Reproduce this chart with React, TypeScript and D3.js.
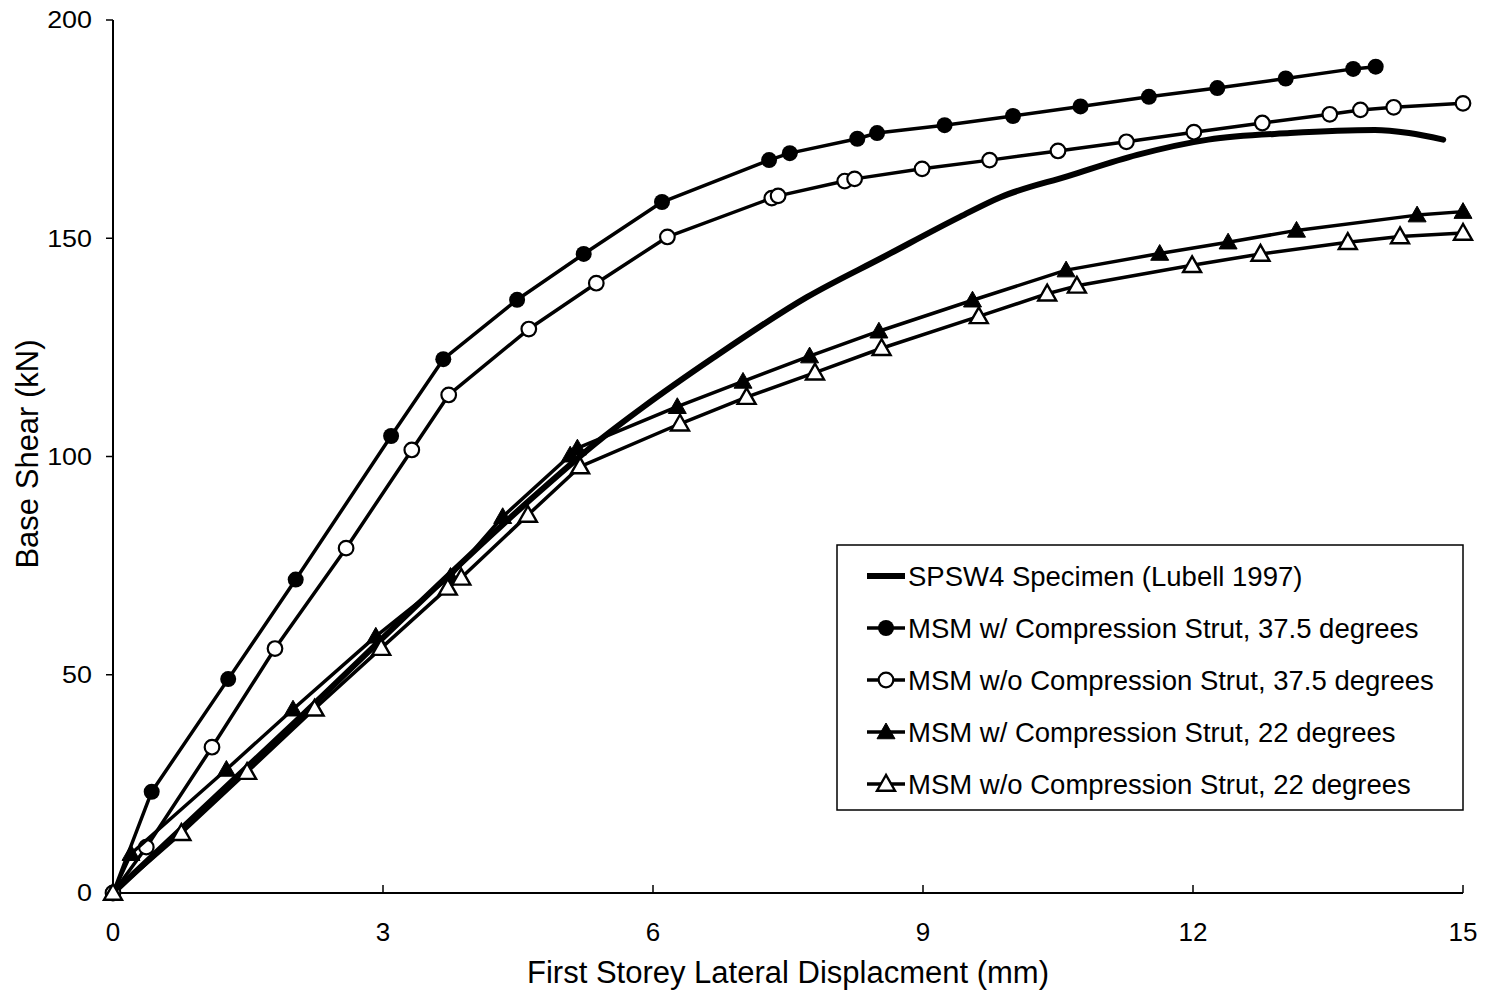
import React from "react";
import * as d3 from "d3";

type P = [number, number];

const spsw4: P[] = [
  [0, 0], [2.08, 40.3], [4.67, 90.7], [5.41, 103.8], [5.89, 111.3], [6.67, 122.6],
  [7.71, 136.5], [8.56, 145.7], [9.41, 154.9], [9.86, 159.4], [10.62, 164.3],
  [11.38, 169.1], [12.17, 172.6], [13.08, 174.1], [14.02, 174.8], [14.4, 174.1], [14.78, 172.6],
];

const msmWith375: P[] = [
  [0, 0], [0.43, 23.2], [1.28, 49], [2.03, 71.8], [3.09, 104.7], [3.67, 122.3],
  [4.49, 135.9], [5.23, 146.4], [6.1, 158.3], [7.29, 167.9], [7.52, 169.5],
  [8.27, 172.8], [8.49, 174.1], [9.24, 175.9], [10.0, 178.0], [10.75, 180.2],
  [11.51, 182.4], [12.27, 184.4], [13.03, 186.6], [13.78, 188.8], [14.03, 189.3],
];

const msmWithout375: P[] = [
  [0, 0], [0.37, 10.5], [1.1, 33.4], [1.8, 56], [2.59, 79], [3.32, 101.5], [3.73, 114.1],
  [4.62, 129.2], [5.37, 139.7], [6.16, 150.3], [7.32, 159.2], [7.39, 159.7],
  [8.13, 163.1], [8.24, 163.6], [8.99, 165.9], [9.74, 167.9], [10.5, 170.0],
  [11.26, 172.1], [12.01, 174.3], [12.77, 176.4], [13.52, 178.4], [13.86, 179.4],
  [14.23, 180.0], [15.0, 180.9],
];

const msmWith22: P[] = [
  [0, 0], [0.2, 9.0], [1.26, 28.3], [2.0, 42.1], [2.92, 58.8], [3.75, 72.5], [4.33, 86.2],
  [5.08, 100.3], [5.16, 101.9], [6.27, 111.4], [7.0, 117.2], [7.74, 123.0], [8.51, 128.7],
  [9.55, 135.8], [10.59, 142.7], [11.63, 146.5], [12.39, 149.1], [13.15, 151.8],
  [14.49, 155.3], [15.0, 156.1],
];

const msmWithout22: P[] = [
  [0, 0], [0.76, 13.7], [1.49, 27.7], [2.24, 42.2], [2.98, 56.1], [3.72, 69.9], [3.87, 72.2],
  [4.61, 86.6], [5.19, 97.7], [6.3, 107.5], [7.04, 113.6], [7.8, 119.2], [8.54, 124.8],
  [9.62, 132.1], [10.38, 137.3], [10.71, 139.1], [11.99, 143.8], [12.75, 146.4],
  [13.72, 149.1], [14.3, 150.4], [15.0, 151.2],
];

const xTicks = [0, 3, 6, 9, 12, 15];
const yTicks = [0, 50, 100, 150, 200];

const legendLabels = [
  "SPSW4 Specimen (Lubell 1997)",
  "MSM w/ Compression Strut, 37.5 degrees",
  "MSM w/o Compression Strut, 37.5 degrees",
  "MSM w/ Compression Strut, 22 degrees",
  "MSM w/o Compression Strut, 22 degrees",
];

const xLabel = "First Storey Lateral Displacment (mm)";
const yLabel = "Base Shear (kN)";

type Marker = "none" | "circleFilled" | "circleOpen" | "triFilled" | "triOpen";

const series: { data: P[]; marker: Marker; width: number }[] = [
  { data: spsw4, marker: "none", width: 6 },
  { data: msmWith375, marker: "circleFilled", width: 3.5 },
  { data: msmWithout375, marker: "circleOpen", width: 3.5 },
  { data: msmWith22, marker: "triFilled", width: 3.5 },
  { data: msmWithout22, marker: "triOpen", width: 3.5 },
];

const W = 1488;
const H = 994;
const left = 113;
const right = 1463;
const top = 20;
const bottom = 893;
const FONT = "'Liberation Sans', Arial, sans-serif";

function MarkerShape({ type, x, y }: { type: Marker; x: number; y: number }) {
  if (type === "circleFilled") return <circle cx={x} cy={y} r={8} fill="#000" />;
  if (type === "circleOpen")
    return <circle cx={x} cy={y} r={7.3} fill="#fff" stroke="#000" strokeWidth={2.2} />;
  if (type === "triFilled" || type === "triOpen") {
    const s = 9;
    const pts = `${x},${y - s} ${x - s},${y + s * 0.75} ${x + s},${y + s * 0.75}`;
    return (
      <polygon
        points={pts}
        fill={type === "triFilled" ? "#000" : "#fff"}
        stroke="#000"
        strokeWidth={type === "triFilled" ? 1 : 2.4}
      />
    );
  }
  return null;
}

export default function App() {
  const x = d3.scaleLinear().domain([0, 15]).range([left, right]);
  const y = d3.scaleLinear().domain([0, 200]).range([bottom, top]);
  const line = d3
    .line<P>()
    .x((d) => x(d[0]))
    .y((d) => y(d[1]));
  const smooth = d3
    .line<P>()
    .x((d) => x(d[0]))
    .y((d) => y(d[1]))
    .curve(d3.curveMonotoneX);

  const legX = 837;
  const legY = 545;
  const legW = 626;
  const legH = 265;
  const rowGap = 52;

  return (
    <svg width={W} height={H} style={{ display: "block", position: "absolute", left: 0, top: 0 }}>
      <rect x={0} y={0} width={W} height={H} fill="#fff" />
      {/* axes */}
      <line x1={left} y1={top} x2={left} y2={bottom} stroke="#000" strokeWidth={2} />
      <line x1={left} y1={bottom} x2={right} y2={bottom} stroke="#000" strokeWidth={2} />
      {yTicks.map((t) => (
        <g key={"y" + t}>
          <line x1={left - 7} x2={left} y1={y(t)} y2={y(t)} stroke="#000" strokeWidth={1.5} />
          <text
            transform={`translate(${left - 21}, ${y(t)}) scale(1.12, 1)`}
            textAnchor="end"
            dominantBaseline="central"
            fontFamily={FONT}
            fontSize={24}
          >
            {t}
          </text>
        </g>
      ))}
      {xTicks.map((t) => (
        <g key={"x" + t}>
          <line x1={x(t)} x2={x(t)} y1={bottom} y2={bottom - 8} stroke="#000" strokeWidth={1.5} />
          <text
            x={x(t)}
            y={932}
            textAnchor="middle"
            dominantBaseline="central"
            fontFamily={FONT}
            fontSize={26}
          >
            {t}
          </text>
        </g>
      ))}
      <text
        x={788}
        y={972}
        textAnchor="middle"
        dominantBaseline="central"
        fontFamily={FONT}
        fontSize={31}
      >
        {xLabel}
      </text>
      <text
        transform={`translate(27, 454) rotate(-90)`}
        textAnchor="middle"
        dominantBaseline="central"
        fontFamily={FONT}
        fontSize={31}
      >
        {yLabel}
      </text>

      {/* series */}
      {series.map((s, i) => (
        <g key={"s" + i}>
          <path
            d={(s.marker === "none" ? smooth : line)(s.data) || ""}
            fill="none"
            stroke="#000"
            strokeWidth={s.width}
            strokeLinejoin="round"
            strokeLinecap="round"
          />
          {s.marker !== "none" &&
            s.data.map((d, j) => <MarkerShape key={j} type={s.marker} x={x(d[0])} y={y(d[1])} />)}
        </g>
      ))}

      {/* legend */}
      <rect x={legX} y={legY} width={legW} height={legH} fill="#fff" stroke="#000" strokeWidth={1.5} />
      {series.map((s, i) => {
        const cy = legY + 31 + i * rowGap;
        return (
          <g key={"l" + i}>
            <line x1={867} x2={905} y1={cy} y2={cy} stroke="#000" strokeWidth={s.width} />
            {s.marker !== "none" && <MarkerShape type={s.marker} x={886} y={cy} />}
            <text x={908} y={cy} dominantBaseline="central" fontFamily={FONT} fontSize={27.5}>
              {legendLabels[i]}
            </text>
          </g>
        );
      })}
    </svg>
  );
}
